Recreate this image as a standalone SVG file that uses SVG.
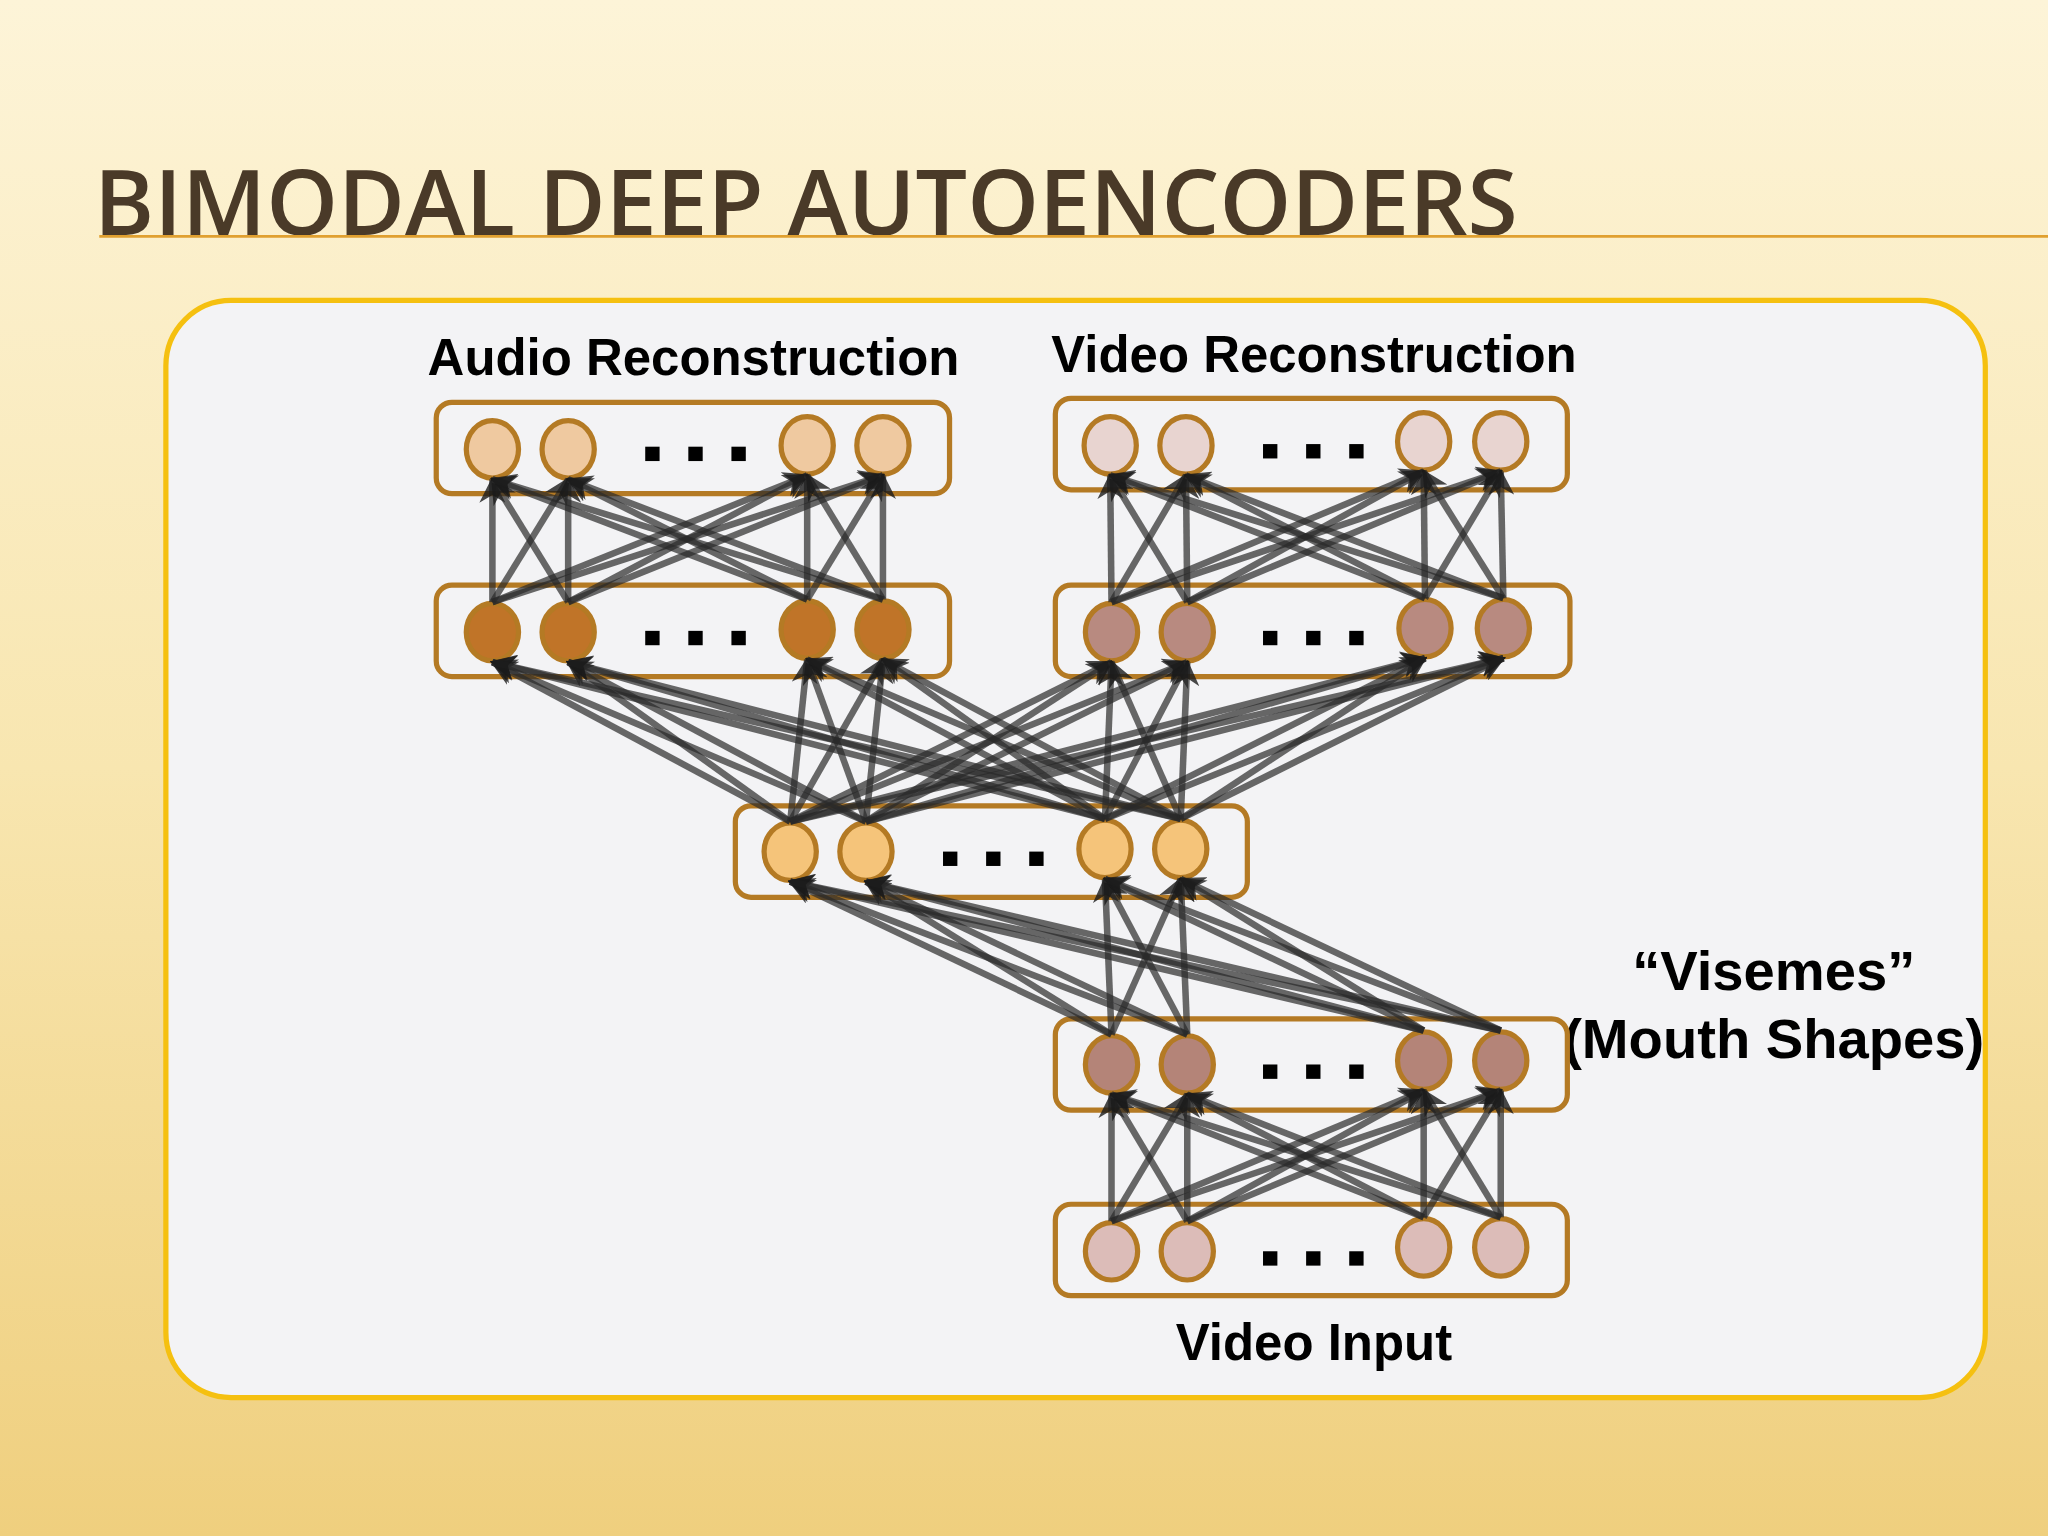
<svg xmlns="http://www.w3.org/2000/svg" width="2048" height="1536" viewBox="0 0 2048 1536">
<defs>
<linearGradient id="bg" x1="0" y1="0" x2="0" y2="1">
<stop offset="0" stop-color="#fdf4d8"/><stop offset="0.5" stop-color="#f8e6b0"/><stop offset="1" stop-color="#efcf7e"/>
</linearGradient>
<marker id="ah" viewBox="0 0 10 10" refX="9" refY="5" markerWidth="4" markerHeight="4" orient="auto">
<path d="M0,0 L10,5 L0,10 L3,5 z" fill="#1a1a1a" fill-opacity="0.8"/>
</marker>
<style>
.box{fill:none;stroke:#b47a24;stroke-width:4}
.n{stroke:#b47a24;stroke-width:4}
.dot{fill:#000}
.lbl{font-family:"Liberation Sans",Arial,sans-serif;font-weight:bold;font-size:39px;fill:#000;text-anchor:middle}
.big{font-size:43px}
#conn line{stroke:#2a2a2a;stroke-opacity:0.7;stroke-width:5;marker-end:url(#ah)}
</style>
</defs>
<rect width="2048" height="1536" fill="url(#bg)"/>
<g transform="scale(1.30612)">
<text x="72" y="180" font-family="'Open Sans','Liberation Sans',sans-serif" font-weight="600" font-size="70" fill="#4a3a28" textLength="1090" lengthAdjust="spacingAndGlyphs">BIMODAL DEEP AUTOENCODERS</text>
<line x1="76" y1="181" x2="1568" y2="181" stroke="#e0a030" stroke-width="2"/>
<rect x="127" y="230" width="1393" height="840" rx="50" fill="#f3f3f5" stroke="#f5c010" stroke-width="4"/>
<text class="lbl" x="531" y="287">Audio Reconstruction</text>
<text class="lbl" x="1006" y="285">Video Reconstruction</text>
<text class="lbl" x="1006" y="1041">Video Input</text>
<text class="lbl big" x="1358" y="758">“Visemes”</text>
<text class="lbl big" x="1358" y="810">(Mouth Shapes)</text>
<g id="audio-top"><rect class="box" x="334" y="308" width="393" height="70" rx="12"/>
<g fill="#efc9a0"><ellipse class="n" cx="377" cy="344" rx="20" ry="22"/><ellipse class="n" cx="435" cy="344" rx="20" ry="22"/><ellipse class="n" cx="618" cy="341" rx="20" ry="22"/><ellipse class="n" cx="676" cy="341" rx="20" ry="22"/></g>
<rect class="dot" x="494" y="342" width="11" height="11"/><rect class="dot" x="527" y="342" width="11" height="11"/><rect class="dot" x="560" y="342" width="11" height="11"/></g>
<g id="audio-hidden"><rect class="box" x="334" y="448" width="393" height="70" rx="12"/>
<g fill="#c07428"><ellipse class="n" cx="377" cy="484" rx="20" ry="22"/><ellipse class="n" cx="435" cy="484" rx="20" ry="22"/><ellipse class="n" cx="618" cy="482" rx="20" ry="22"/><ellipse class="n" cx="676" cy="482" rx="20" ry="22"/></g>
<rect class="dot" x="494" y="483" width="11" height="11"/><rect class="dot" x="527" y="483" width="11" height="11"/><rect class="dot" x="560" y="483" width="11" height="11"/></g>
<g id="video-top"><rect class="box" x="808" y="305" width="392" height="70" rx="12"/>
<g fill="#e8d4d0"><ellipse class="n" cx="850" cy="341" rx="20" ry="22"/><ellipse class="n" cx="908" cy="341" rx="20" ry="22"/><ellipse class="n" cx="1090" cy="338" rx="20" ry="22"/><ellipse class="n" cx="1149" cy="338" rx="20" ry="22"/></g>
<rect class="dot" x="967" y="340" width="11" height="11"/><rect class="dot" x="1000" y="340" width="11" height="11"/><rect class="dot" x="1033" y="340" width="11" height="11"/></g>
<g id="video-hidden"><rect class="box" x="808" y="448" width="394" height="70" rx="12"/>
<g fill="#b88a80"><ellipse class="n" cx="851" cy="484" rx="20" ry="22"/><ellipse class="n" cx="909" cy="484" rx="20" ry="22"/><ellipse class="n" cx="1091" cy="481" rx="20" ry="22"/><ellipse class="n" cx="1151" cy="481" rx="20" ry="22"/></g>
<rect class="dot" x="967" y="483" width="11" height="11"/><rect class="dot" x="1000" y="483" width="11" height="11"/><rect class="dot" x="1033" y="483" width="11" height="11"/></g>
<g id="shared"><rect class="box" x="563" y="617" width="392" height="70" rx="12"/>
<g fill="#f5c47a"><ellipse class="n" cx="605" cy="652" rx="20" ry="22"/><ellipse class="n" cx="663" cy="652" rx="20" ry="22"/><ellipse class="n" cx="846" cy="650" rx="20" ry="22"/><ellipse class="n" cx="904" cy="650" rx="20" ry="22"/></g>
<rect class="dot" x="722" y="652" width="11" height="11"/><rect class="dot" x="755" y="652" width="11" height="11"/><rect class="dot" x="788" y="652" width="11" height="11"/></g>
<g id="visemes"><rect class="box" x="808" y="780" width="392" height="70" rx="12"/>
<g fill="#b48478"><ellipse class="n" cx="851" cy="815" rx="20" ry="22"/><ellipse class="n" cx="909" cy="815" rx="20" ry="22"/><ellipse class="n" cx="1090" cy="812" rx="20" ry="22"/><ellipse class="n" cx="1149" cy="812" rx="20" ry="22"/></g>
<rect class="dot" x="967" y="815" width="11" height="11"/><rect class="dot" x="1000" y="815" width="11" height="11"/><rect class="dot" x="1033" y="815" width="11" height="11"/></g>
<g id="video-input"><rect class="box" x="808" y="922" width="392" height="70" rx="12"/>
<g fill="#dcbcb8"><ellipse class="n" cx="851" cy="958" rx="20" ry="22"/><ellipse class="n" cx="909" cy="958" rx="20" ry="22"/><ellipse class="n" cx="1090" cy="955" rx="20" ry="22"/><ellipse class="n" cx="1149" cy="955" rx="20" ry="22"/></g>
<rect class="dot" x="967" y="958" width="11" height="11"/><rect class="dot" x="1000" y="958" width="11" height="11"/><rect class="dot" x="1033" y="958" width="11" height="11"/></g>
<g id="conn">
<line x1="377" y1="461" x2="377" y2="367"/><line x1="377" y1="461" x2="435" y2="367"/><line x1="377" y1="461" x2="618" y2="364"/><line x1="377" y1="461" x2="676" y2="364"/>
<line x1="435" y1="461" x2="377" y2="367"/><line x1="435" y1="461" x2="435" y2="367"/><line x1="435" y1="461" x2="618" y2="364"/><line x1="435" y1="461" x2="676" y2="364"/>
<line x1="618" y1="459" x2="377" y2="367"/><line x1="618" y1="459" x2="435" y2="367"/><line x1="618" y1="459" x2="618" y2="364"/><line x1="618" y1="459" x2="676" y2="364"/>
<line x1="676" y1="459" x2="377" y2="367"/><line x1="676" y1="459" x2="435" y2="367"/><line x1="676" y1="459" x2="618" y2="364"/><line x1="676" y1="459" x2="676" y2="364"/>
<line x1="851" y1="461" x2="850" y2="364"/><line x1="851" y1="461" x2="908" y2="364"/><line x1="851" y1="461" x2="1090" y2="361"/><line x1="851" y1="461" x2="1149" y2="361"/>
<line x1="909" y1="461" x2="850" y2="364"/><line x1="909" y1="461" x2="908" y2="364"/><line x1="909" y1="461" x2="1090" y2="361"/><line x1="909" y1="461" x2="1149" y2="361"/>
<line x1="1091" y1="458" x2="850" y2="364"/><line x1="1091" y1="458" x2="908" y2="364"/><line x1="1091" y1="458" x2="1090" y2="361"/><line x1="1091" y1="458" x2="1149" y2="361"/>
<line x1="1151" y1="458" x2="850" y2="364"/><line x1="1151" y1="458" x2="908" y2="364"/><line x1="1151" y1="458" x2="1090" y2="361"/><line x1="1151" y1="458" x2="1149" y2="361"/>
<line x1="605" y1="629" x2="377" y2="507"/><line x1="605" y1="629" x2="435" y2="507"/><line x1="605" y1="629" x2="618" y2="505"/><line x1="605" y1="629" x2="676" y2="505"/><line x1="605" y1="629" x2="851" y2="507"/><line x1="605" y1="629" x2="909" y2="507"/><line x1="605" y1="629" x2="1091" y2="504"/><line x1="605" y1="629" x2="1151" y2="504"/>
<line x1="663" y1="629" x2="377" y2="507"/><line x1="663" y1="629" x2="435" y2="507"/><line x1="663" y1="629" x2="618" y2="505"/><line x1="663" y1="629" x2="676" y2="505"/><line x1="663" y1="629" x2="851" y2="507"/><line x1="663" y1="629" x2="909" y2="507"/><line x1="663" y1="629" x2="1091" y2="504"/><line x1="663" y1="629" x2="1151" y2="504"/>
<line x1="846" y1="627" x2="377" y2="507"/><line x1="846" y1="627" x2="435" y2="507"/><line x1="846" y1="627" x2="618" y2="505"/><line x1="846" y1="627" x2="676" y2="505"/><line x1="846" y1="627" x2="851" y2="507"/><line x1="846" y1="627" x2="909" y2="507"/><line x1="846" y1="627" x2="1091" y2="504"/><line x1="846" y1="627" x2="1151" y2="504"/>
<line x1="904" y1="627" x2="377" y2="507"/><line x1="904" y1="627" x2="435" y2="507"/><line x1="904" y1="627" x2="618" y2="505"/><line x1="904" y1="627" x2="676" y2="505"/><line x1="904" y1="627" x2="851" y2="507"/><line x1="904" y1="627" x2="909" y2="507"/><line x1="904" y1="627" x2="1091" y2="504"/><line x1="904" y1="627" x2="1151" y2="504"/>
<line x1="851" y1="792" x2="605" y2="675"/><line x1="851" y1="792" x2="663" y2="675"/><line x1="851" y1="792" x2="846" y2="673"/><line x1="851" y1="792" x2="904" y2="673"/>
<line x1="909" y1="792" x2="605" y2="675"/><line x1="909" y1="792" x2="663" y2="675"/><line x1="909" y1="792" x2="846" y2="673"/><line x1="909" y1="792" x2="904" y2="673"/>
<line x1="1090" y1="789" x2="605" y2="675"/><line x1="1090" y1="789" x2="663" y2="675"/><line x1="1090" y1="789" x2="846" y2="673"/><line x1="1090" y1="789" x2="904" y2="673"/>
<line x1="1149" y1="789" x2="605" y2="675"/><line x1="1149" y1="789" x2="663" y2="675"/><line x1="1149" y1="789" x2="846" y2="673"/><line x1="1149" y1="789" x2="904" y2="673"/>
<line x1="851" y1="935" x2="851" y2="838"/><line x1="851" y1="935" x2="909" y2="838"/><line x1="851" y1="935" x2="1090" y2="835"/><line x1="851" y1="935" x2="1149" y2="835"/>
<line x1="909" y1="935" x2="851" y2="838"/><line x1="909" y1="935" x2="909" y2="838"/><line x1="909" y1="935" x2="1090" y2="835"/><line x1="909" y1="935" x2="1149" y2="835"/>
<line x1="1090" y1="932" x2="851" y2="838"/><line x1="1090" y1="932" x2="909" y2="838"/><line x1="1090" y1="932" x2="1090" y2="835"/><line x1="1090" y1="932" x2="1149" y2="835"/>
<line x1="1149" y1="932" x2="851" y2="838"/><line x1="1149" y1="932" x2="909" y2="838"/><line x1="1149" y1="932" x2="1090" y2="835"/><line x1="1149" y1="932" x2="1149" y2="835"/>
</g>
</g>
</svg>
